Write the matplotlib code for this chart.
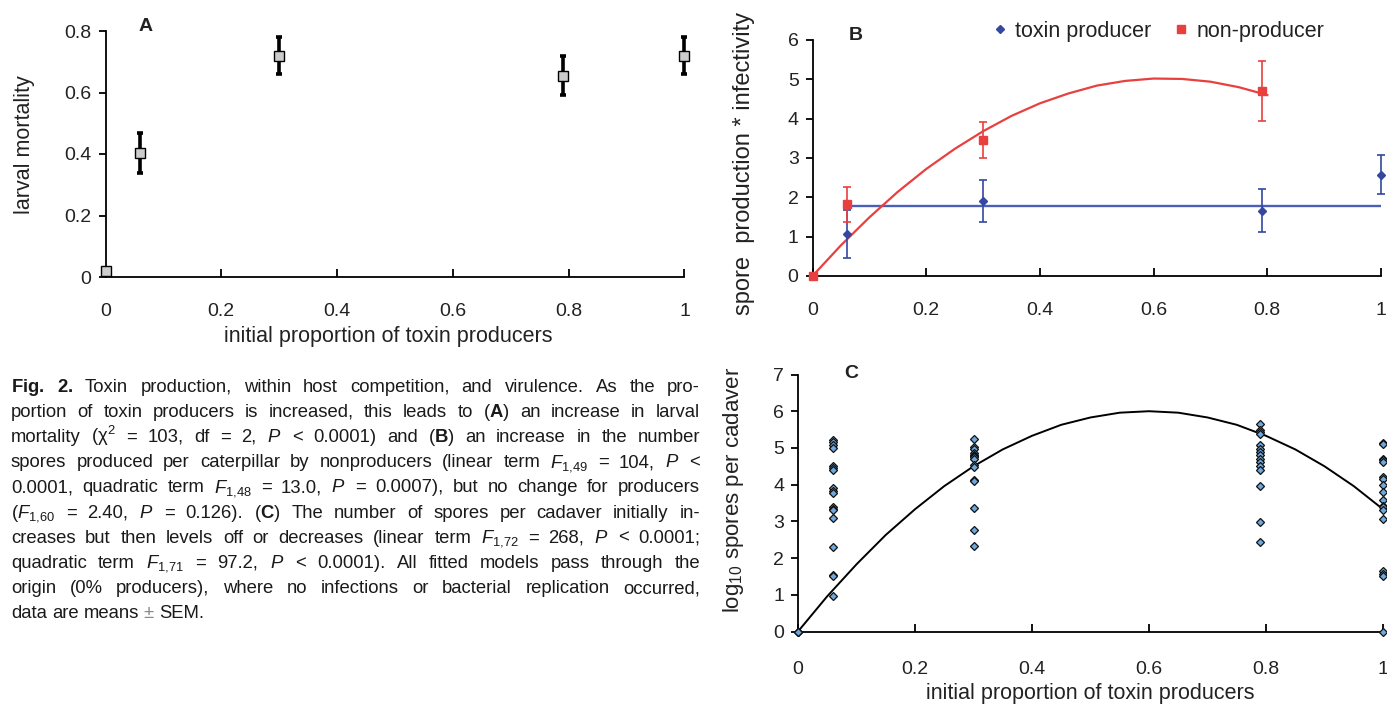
import matplotlib
matplotlib.use('Agg')
import matplotlib.pyplot as plt
import numpy as np

plt.rcParams['font.family'] = ['Liberation Sans', 'DejaVu Sans']
plt.rcParams['mathtext.fontset'] = 'custom'
plt.rcParams['mathtext.rm'] = 'Liberation Sans'
plt.rcParams['mathtext.it'] = 'Liberation Sans:italic'
plt.rcParams['mathtext.bf'] = 'Liberation Sans:bold'

# shared x axis
x_ticks = [0, 0.2, 0.4, 0.6, 0.8, 1.0]
x_labels = ['0', '0.2', '0.4', '0.6', '0.8', '1']

# A - larval mortality
a_x = [0, 0.06, 0.3, 0.79, 1.0]
a_y = [0.02, 0.403, 0.72, 0.655, 0.72]
a_err = [0.01, 0.065, 0.06, 0.063, 0.06]
a_yticks = [0, 0.2, 0.4, 0.6, 0.8]
a_ylabels = ['0', '0.2', '0.4', '0.6', '0.8']

# B - spore production * infectivity
b_tox_x = [0.06, 0.3, 0.79, 1.0]
b_tox_y = [1.07, 1.91, 1.66, 2.58]
b_tox_err = [0.61, 0.53, 0.54, 0.49]
b_non_x = [0, 0.06, 0.3, 0.79]
b_non_y = [0, 1.82, 3.45, 4.70]
b_non_err = [0, 0.44, 0.46, 0.76]
b_tox_fit_x = [0.06, 1.0]
b_tox_fit_y = [1.79, 1.79]
b_non_fit_x = [0, 0.05, 0.1, 0.15, 0.2, 0.25, 0.3, 0.35, 0.4, 0.45, 0.5, 0.55,
               0.6, 0.65, 0.7, 0.75, 0.8]
b_non_fit_y = [0, 0.78, 1.49, 2.14, 2.72, 3.23, 3.68, 4.07, 4.39, 4.64, 4.84, 4.96,
               5.02, 5.01, 4.94, 4.80, 4.60]
b_yticks = [0, 1, 2, 3, 4, 5, 6]

# C - log10 spores per cadaver
c_x = [0, 0.06, 0.3, 0.79, 1.0]
c_y0 = [0, 0, 0]
c_y06 = [5.22, 5.16, 5.08, 5.00, 4.50, 4.46, 4.40, 3.91, 3.84, 3.77, 3.38, 3.34,
         3.31, 3.09, 2.31, 1.54, 1.51, 0.96]
c_y30 = [5.24, 5.02, 4.97, 4.86, 4.82, 4.78, 4.75, 4.70, 4.54, 4.48, 4.13, 4.09,
         3.37, 2.77, 2.32]
c_y79 = [5.66, 5.50, 5.43, 5.39, 5.07, 4.98, 4.89, 4.80, 4.70, 4.61, 4.52, 4.40,
         3.95, 2.98, 2.45]
c_y100 = [5.13, 5.10, 4.70, 4.66, 4.61, 4.22, 4.16, 3.98, 3.79, 3.57, 3.43, 3.38,
          3.32, 3.07, 1.64, 1.57, 1.52, 0.0]
c_fit_x = [0, 0.05, 0.1, 0.15, 0.2, 0.25, 0.3, 0.35, 0.4, 0.45, 0.5, 0.55, 0.6,
           0.65, 0.7, 0.75, 0.8, 0.85, 0.9, 0.95, 1.0]
c_fit_y = [0, 0.96, 1.83, 2.63, 3.33, 3.96, 4.50, 4.96, 5.33, 5.63, 5.83, 5.96, 6.00,
           5.96, 5.83, 5.63, 5.33, 4.96, 4.50, 3.96, 3.33]
c_yticks = [0, 1, 2, 3, 4, 5, 6, 7]

caption = [
    r"$\mathbf{Fig.}$ $\mathbf{2.}$ Toxin production, within host competition, and virulence. As the pro-",
    r"portion of toxin producers is increased, this leads to ($\mathbf{A}$) an increase in larval",
    r"mortality (χ$^2$ = 103, df = 2, $P$ < 0.0001) and ($\mathbf{B}$) an increase in the number",
    r"spores produced per caterpillar by nonproducers (linear term $F_{1{,}49}$ = 104, $P$ <",
    r"0.0001, quadratic term $F_{1{,}48}$ = 13.0, $P$ = 0.0007), but no change for producers",
    r"($F_{1{,}60}$ = 2.40, $P$ = 0.126). ($\mathbf{C}$) The number of spores per cadaver initially in-",
    r"creases but then levels off or decreases (linear term $F_{1{,}72}$ = 268, $P$ < 0.0001;",
    r"quadratic term $F_{1{,}71}$ = 97.2, $P$ < 0.0001). All fitted models pass through the",
    r"origin (0% producers), where no infections or bacterial replication occurred,",
    r"data are means ± SEM.",
]

W, H = 1387, 706
fig = plt.figure(figsize=(W / 100, H / 100), dpi=100)
fig.patch.set_facecolor('white')


def add_ax(l, r, b, t):
    return fig.add_axes([l / W, 1 - b / H, (r - l) / W, (b - t) / H])


def style(ax, yticks, ylabels, ylim, pad):
    ax.spines['top'].set_visible(False)
    ax.spines['right'].set_visible(False)
    ax.spines['left'].set_linewidth(1.3)
    ax.spines['bottom'].set_linewidth(1.3)
    ax.set_xlim(0, 1)
    ax.set_ylim(ylim)
    ax.set_xticks(x_ticks)
    ax.set_xticklabels(x_labels)
    ax.set_yticks(yticks)
    ax.set_yticklabels(ylabels)
    ax.tick_params(axis='x', direction='in', length=6, width=1.3, pad=pad,
                   labelsize=14, labelcolor='#222222')
    ax.tick_params(axis='y', direction='out', length=5, width=1.3, pad=5,
                   labelsize=14, labelcolor='#222222')
    ax.patch.set_alpha(0)


# ---- A ----
axA = add_ax(105.5, 684.5, 277, 31)
axA.errorbar(a_x, a_y, yerr=a_err, fmt='none', ecolor='black', elinewidth=2.6,
             capsize=2.5, capthick=2.6, clip_on=False, zorder=3)
axA.plot(a_x, a_y, 's', ms=6.5, mfc='#cccccc', mec='black', mew=1.0,
         clip_on=False, zorder=4)
style(axA, a_yticks, a_ylabels, (0, 0.8), 19)
axA.set_xlabel('initial proportion of toxin producers', fontsize=15.5, color='#222222')
axA.xaxis.set_label_coords(0.488, -0.2)
axA.set_ylabel('larval mortality', fontsize=15.5, color='#222222')
axA.yaxis.set_label_coords(-0.14, 0.54)
axA.yaxis.label.set_va('center')
axA.text(0.07, 1.02, 'A', transform=axA.transAxes, fontsize=14, fontweight='bold',
         ha='center', va='center', color='#222222')

# ---- B ----
blue = '#3448a2'
red = '#e8403f'
axB = add_ax(812.5, 1381, 276, 40)
axB.plot(b_tox_fit_x, b_tox_fit_y, color='#4a60b8', lw=1.7, zorder=2)
axB.plot(b_non_fit_x, b_non_fit_y, color=red, lw=1.6, zorder=2)
axB.errorbar(b_tox_x, b_tox_y, yerr=b_tox_err, fmt='none', ecolor=blue, elinewidth=1.2,
             capsize=2.8, capthick=1.2, clip_on=False, zorder=3)
axB.errorbar(b_non_x, b_non_y, yerr=b_non_err, fmt='none', ecolor=red, elinewidth=1.2,
             capsize=2.8, capthick=1.2, clip_on=False, zorder=3)
h_tox, = axB.plot(b_tox_x, b_tox_y, 'D', ms=3.8, color=blue, mec=blue,
                  clip_on=False, zorder=4, label='toxin producer')
h_non, = axB.plot(b_non_x, b_non_y, 's', ms=5.5, color=red, mec=red,
                  clip_on=False, zorder=4, label='non-producer')
style(axB, b_yticks, [str(v) for v in b_yticks], (0, 6), 19)
axB.set_ylabel('spore  production * infectivity', fontsize=17, color='#222222')
axB.yaxis.set_label_coords(-0.121, 0.479)
axB.yaxis.label.set_va('center')
axB.text(0.0765, 1.021, 'B', transform=axB.transAxes, fontsize=14, fontweight='bold',
         ha='center', va='center', color='#222222')
axB.legend(handles=[h_tox, h_non], ncol=2, loc='center left',
           bbox_to_anchor=(0.318, 1.036), frameon=False, fontsize=15.5,
           handlelength=0.6, handletextpad=0.4, columnspacing=1.1,
           borderpad=0, borderaxespad=0, labelcolor='#222222')

# ---- C ----
axC = add_ax(798, 1383, 631.5, 374.5)
axC.plot(c_fit_x, c_fit_y, color='black', lw=1.4, zorder=2)
for xv, ys in zip(c_x, [c_y0, c_y06, c_y30, c_y79, c_y100]):
    axC.plot(np.full(len(ys), xv), ys, 'D', ms=4.2, mfc='#6ea8dc', mec='#111111',
             mew=0.9, clip_on=False, zorder=4)
style(axC, c_yticks, [str(v) for v in c_yticks], (0, 7), 21)
axC.set_xlabel('initial proportion of toxin producers', fontsize=15.5, color='#222222')
axC.xaxis.set_label_coords(0.499, -0.2)
axC.set_ylabel(r'log$_{10}$ spores per cadaver', fontsize=16, color='#222222')
axC.yaxis.set_label_coords(-0.111, 0.55)
axC.yaxis.label.set_va('center')
axC.text(0.0906, 1.005, 'C', transform=axC.transAxes, fontsize=14, fontweight='bold',
         ha='center', va='center', color='#222222')

# ---- caption, justified word by word ----
renderer = fig.canvas.get_renderer()
cap_left, cap_right = 11, 700
base0, step = 391.5, 25.2
for i, line in enumerate(caption):
    words = line.split(' ')
    y = 1 - (base0 + i * step) / H
    texts = []
    for w in words:
        col = '#8a8a8a' if w == '±' else '#1a1a1a'
        texts.append(fig.text(0, y, w, fontsize=13.3, ha='left', va='baseline', color=col))
    widths = [t.get_window_extent(renderer).width for t in texts]
    if i < len(caption) - 1:
        gap = (cap_right - cap_left - sum(widths)) / (len(words) - 1)
    else:
        gap = 5
    xpos = cap_left
    for t, wd in zip(texts, widths):
        t.set_x(xpos / W)
        xpos += wd + gap

fig.savefig('out.png', dpi=100, facecolor='white')
